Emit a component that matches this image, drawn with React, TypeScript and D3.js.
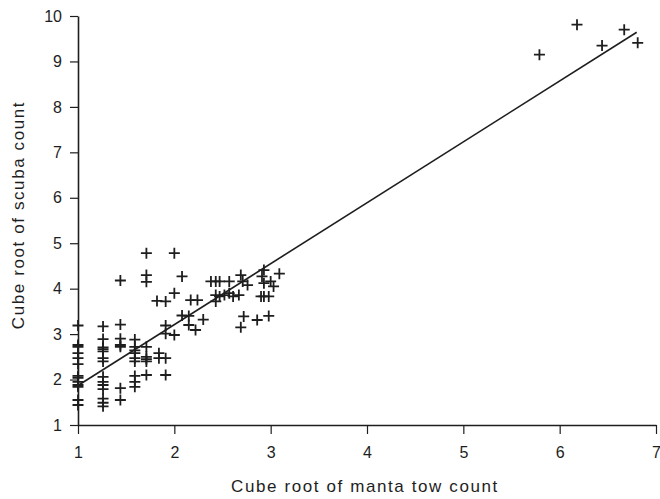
import React, { useEffect, useRef } from 'react';
import * as d3 from 'd3';

// cube root of manta tow count (x) and cube root of scuba count (y), paired by index
const mantaX = [
  1, 1, 1, 1, 1, 1, 1, 1, 1, 1, 1, 1, 1,
  1.26, 1.26, 1.26, 1.26, 1.26, 1.26, 1.26, 1.26, 1.26, 1.26, 1.26, 1.26, 1.26, 1.26,
  1.44, 1.44, 1.44, 1.44, 1.44, 1.44, 1.44,
  1.59, 1.59, 1.59, 1.59, 1.59, 1.59, 1.59, 1.59, 1.59,
  1.71, 1.71, 1.71, 1.71, 1.71, 1.71, 1.71, 1.71,
  1.82, 1.84, 1.84,
  1.91, 1.91, 1.91, 1.91, 1.91,
  2.0, 2.0, 2.0,
  2.08, 2.08,
  2.15, 2.15, 2.17,
  2.24, 2.22,
  2.3,
  2.38,
  2.43, 2.43, 2.43,
  2.47, 2.47,
  2.52,
  2.57, 2.57,
  2.61,
  2.67,
  2.69, 2.71, 2.69,
  2.72,
  2.76,
  2.86,
  2.9, 2.91,
  2.93, 2.93, 2.93,
  2.98, 2.98, 3.0,
  3.03,
  3.09,
  5.79, 6.18, 6.44, 6.67, 6.81
];

const scubaY = [
  3.19, 2.76, 2.72, 2.58, 2.47, 2.34, 2.08, 2.04, 1.95, 1.88, 1.84, 1.55, 1.44,
  3.17, 2.89, 2.71, 2.67, 2.62, 2.47, 2.4, 2.06, 1.95, 1.88, 1.79, 1.58, 1.49, 1.41,
  4.18, 3.21, 2.9, 2.76, 2.72, 1.81, 1.55,
  2.88, 2.72, 2.64, 2.58, 2.47, 2.4, 2.08, 1.95, 1.84,
  4.78, 4.3, 4.15, 2.72, 2.5, 2.45, 2.4, 2.1,
  3.73, 2.58, 2.47,
  3.72, 3.19, 3.01, 2.47, 2.1,
  4.78, 3.9, 2.98,
  4.27, 3.41,
  3.4, 3.2, 3.75,
  3.75, 3.09,
  3.32,
  4.16,
  4.16, 3.86, 3.72,
  4.16, 3.83,
  3.86,
  3.9, 4.16,
  3.83,
  3.86,
  4.3, 4.16, 3.15,
  3.39,
  4.08,
  3.31,
  3.83, 4.27,
  4.41, 4.12, 3.83,
  3.83, 3.4, 4.16,
  4.05,
  4.33,
  9.15, 9.81, 9.35, 9.7, 9.41
];

const xTicks = [1, 2, 3, 4, 5, 6, 7];
const yTicks = [1, 2, 3, 4, 5, 6, 7, 8, 9, 10];

// fitted line: scuba = fitIntercept + fitSlope * manta
const fitIntercept = 0.53;
const fitSlope = 1.34;
const fitRange = [1, 6.8];

const xTitle = 'Cube root of manta tow count';
const yTitle = 'Cube root of scuba count';

const App = () => {
  const ref = useRef<SVGSVGElement | null>(null);

  useEffect(() => {
    const svg = d3.select(ref.current);
    svg.selectAll('*').remove();

    const ink = '#1e1e1e';
    const font = '"Liberation Sans", Arial, sans-serif';

    const x = d3.scaleLinear().domain([1, 7]).range([78, 656]);
    const y = d3.scaleLinear().domain([1, 10]).range([425, 16]);

    const xAxis = svg.append('g')
      .attr('transform', `translate(0,${y(1)})`)
      .call(d3.axisBottom(x).tickValues(xTicks).tickSize(9).tickSizeOuter(0).tickPadding(13).tickFormat(d3.format('d')));

    const yAxis = svg.append('g')
      .attr('transform', `translate(${x(1)},0)`)
      .call(d3.axisLeft(y).tickValues(yTicks).tickSize(8).tickSizeOuter(0).tickPadding(8).tickFormat(d3.format('d')));

    [xAxis, yAxis].forEach(g => {
      g.select('.domain').attr('stroke', ink).attr('stroke-width', 1.6);
      g.selectAll('.tick line').attr('stroke', ink).attr('stroke-width', 1.2);
      g.selectAll('.tick text')
        .attr('fill', ink)
        .style('font-family', font)
        .style('font-size', '16px');
    });

    svg.append('line')
      .attr('x1', x(fitRange[0]))
      .attr('y1', y(fitIntercept + fitSlope * fitRange[0]))
      .attr('x2', x(fitRange[1]))
      .attr('y2', y(fitIntercept + fitSlope * fitRange[1]))
      .attr('stroke', ink)
      .attr('stroke-width', 1.6);

    const pts = mantaX.map((m, i) => ({ m, s: scubaY[i] }));
    const arm = 5.5;
    svg.append('g')
      .selectAll('path')
      .data(pts)
      .enter()
      .append('path')
      .attr('d', d => {
        const cx = x(d.m);
        const cy = y(d.s);
        return `M${cx - arm},${cy}H${cx + arm}M${cx},${cy - arm}V${cy + arm}`;
      })
      .attr('stroke', ink)
      .attr('stroke-width', 1.8)
      .attr('fill', 'none');

    svg.append('text')
      .attr('x', 365)
      .attr('y', 492)
      .attr('text-anchor', 'middle')
      .attr('fill', ink)
      .style('font-family', font)
      .style('font-size', '17px')
      .style('letter-spacing', '1.6px')
      .text(xTitle);

    svg.append('text')
      .attr('transform', 'translate(24,215) rotate(-90)')
      .attr('text-anchor', 'middle')
      .attr('fill', ink)
      .style('font-family', font)
      .style('font-size', '17px')
      .style('letter-spacing', '1.6px')
      .text(yTitle);
  }, []);

  return (
    <svg ref={ref} width={660} height={499} style={{ position: 'absolute', left: 0, top: 0, background: '#fff' }} />
  );
};

export default App;
